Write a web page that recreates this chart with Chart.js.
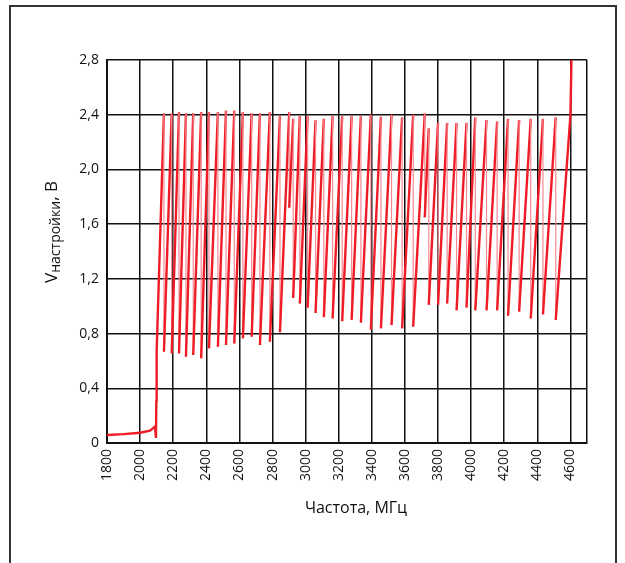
<!DOCTYPE html>
<html>
<head>
<meta charset="utf-8">
<script src="https://cdn.jsdelivr.net/npm/chart.js@4/dist/chart.umd.min.js"></script>
<style>
  body { margin: 0; background: #fff; }
  #wrap { width: 625px; height: 563px; }
</style>
</head>
<body>
<div id="wrap"><canvas id="chart"></canvas></div>
<script>
// tuning voltage vs frequency (sawtooth: each top is followed by a drop at the same frequency)
const freqMHz = [1800, 1900, 2000, 2060, 2090, 2096, 2098, 2100,
  2144, 2144, 2191, 2191, 2235, 2235, 2277, 2277, 2321, 2321, 2369, 2369,
  2416, 2416, 2470, 2470, 2519, 2519, 2569, 2569, 2621, 2621, 2674, 2674,
  2724, 2724, 2784, 2784, 2845, 2845, 2901, 2901, 2925, 2925, 2965, 2965,
  3012, 3012, 3060, 3060, 3110, 3110, 3163, 3163, 3221, 3221, 3278, 3278,
  3334, 3334, 3394, 3394, 3455, 3455, 3519, 3519, 3583, 3583, 3650, 3650,
  3720, 3720, 3744, 3744, 3800, 3800, 3855, 3855, 3912, 3912, 3972, 3972,
  4025, 4025, 4093, 4093, 4157, 4157, 4223, 4223, 4290, 4290, 4360, 4360,
  4434, 4434, 4511, 4511, 4600, 4606];
const vTune = [0.058, 0.065, 0.075, 0.09, 0.12, 0.037, 0.31, 0.667,
  2.41, 0.667, 2.41, 0.655, 2.42, 0.655, 2.41, 0.631, 2.41, 0.643, 2.42, 0.619,
  2.42, 0.692, 2.42, 0.704, 2.43, 0.716, 2.43, 0.728, 2.42, 0.765, 2.41, 0.777,
  2.41, 0.716, 2.42, 0.74, 2.39, 0.81, 2.42, 1.72, 2.37, 1.06, 2.39, 1.02,
  2.39, 0.99, 2.36, 0.95, 2.37, 0.92, 2.39, 0.91, 2.39, 0.89, 2.39, 0.90,
  2.39, 0.88, 2.40, 0.83, 2.385, 0.838, 2.40, 0.862, 2.38, 0.838, 2.40, 0.85,
  2.41, 1.65, 2.30, 1.01, 2.34, 1.01, 2.34, 1.02, 2.34, 0.97, 2.34, 0.99,
  2.38, 0.97, 2.36, 0.97, 2.35, 0.97, 2.37, 0.93, 2.36, 0.96, 2.37, 0.91,
  2.37, 0.94, 2.38, 0.90, 2.40, 2.80];

const xTicks = [1800, 2000, 2200, 2400, 2600, 2800, 3000, 3200, 3400, 3600, 3800, 4000, 4200, 4400, 4600];
const yTicks = [0, 0.4, 0.8, 1.2, 1.6, 2.0, 2.4, 2.8];
const xTitle = 'Частота, МГц';
const yTitle = ['V', 'настройки', ', В'];

const FONT = '"Open Sans", "Noto Sans", sans-serif';

const points = freqMHz.map((f, i) => ({ x: f, y: vTune[i] }));

// the drops (same frequency, falling voltage) look thinner and paler in the original
const isDrop = ctx => ctx.p0.parsed.x === ctx.p1.parsed.x && ctx.p1.parsed.y < ctx.p0.parsed.y - 0.3;

const decor = {
  id: 'decor',
  beforeDraw(chart) {
    const ctx = chart.ctx;
    ctx.save();
    ctx.fillStyle = '#fff';
    ctx.fillRect(0, 0, chart.width, chart.height);
    ctx.strokeStyle = '#333';
    ctx.lineWidth = 2;
    ctx.strokeRect(10, 6, 606, 600);
    ctx.restore();
  },
  afterDraw(chart) {
    const ctx = chart.ctx;
    ctx.save();
    ctx.fillStyle = '#111';
    ctx.textBaseline = 'alphabetic';
    // x title
    ctx.font = '16px ' + FONT;
    ctx.textAlign = 'center';
    ctx.fillText(xTitle, 356, 513);
    // y title with subscript, rotated
    ctx.translate(57, 232);
    ctx.rotate(-Math.PI / 2);
    ctx.textAlign = 'left';
    const big = '17px ' + FONT, small = '14px ' + FONT;
    ctx.font = big; const w0 = ctx.measureText(yTitle[0]).width;
    ctx.font = small; const w1 = ctx.measureText(yTitle[1]).width;
    ctx.font = big; const w2 = ctx.measureText(yTitle[2]).width;
    let x = -(w0 + w1 + w2) / 2;
    ctx.font = big; ctx.fillText(yTitle[0], x, 0); x += w0;
    ctx.font = small; ctx.fillText(yTitle[1], x, 3); x += w1;
    ctx.font = big; ctx.fillText(yTitle[2], x, 0);
    ctx.restore();
  }
};

new Chart(document.getElementById('chart'), {
  type: 'line',
  data: {
    datasets: [{
      data: points,
      borderColor: '#ee1c25',
      borderWidth: 2.4,
      pointRadius: 0,
      tension: 0,
      fill: false,
      segment: {
        borderColor: ctx => (isDrop(ctx) ? '#f58a92' : undefined),
        borderWidth: ctx => (isDrop(ctx) ? 1.2 : undefined)
      }
    }]
  },
  options: {
    responsive: true,
    maintainAspectRatio: false,
    animation: false,
    layout: { padding: { top: 60, right: 38, left: 0, bottom: 0 } },
    plugins: { legend: { display: false }, tooltip: { enabled: false } },
    scales: {
      x: {
        type: 'linear',
        min: 1800,
        max: 4700,
        afterBuildTicks(scale) { scale.ticks = xTicks.concat([4700]).map(v => ({ value: v })); },
        afterFit(scale) { scale.height = 120; },
        ticks: {
          minRotation: 90,
          maxRotation: 90,
          padding: 6,
          color: '#111',
          font: { family: FONT, size: 14 },
          callback: v => (v > 4600 ? '' : String(v))
        },
        grid: { color: '#111', lineWidth: 1.5, drawTicks: false },
        border: { display: true, color: '#111', width: 2 }
      },
      y: {
        min: 0,
        max: 2.8,
        afterBuildTicks(scale) { scale.ticks = yTicks.map(v => ({ value: v })); },
        afterFit(scale) { scale.width = 107; },
        ticks: {
          padding: 8,
          color: '#111',
          font: { family: FONT, size: 14 },
          callback: v => (v === 0 ? '0' : v.toFixed(1).replace('.', ','))
        },
        grid: { color: '#111', lineWidth: 1.5, drawTicks: false },
        border: { display: true, color: '#111', width: 2 }
      }
    }
  },
  plugins: [decor]
});
</script>
</body>
</html>
